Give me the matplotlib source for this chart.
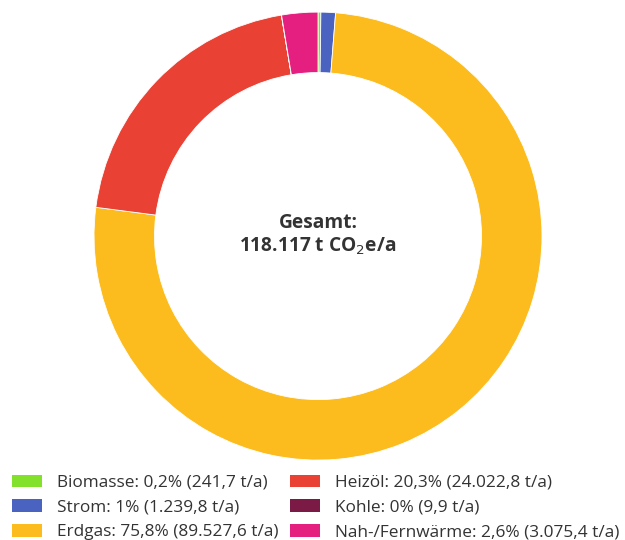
import matplotlib
matplotlib.use("Agg")
import matplotlib.pyplot as plt
from matplotlib.patches import Patch

labels = ["Biomasse", "Strom", "Erdgas", "Heizöl", "Kohle", "Nah-/Fernwärme"]
values = [241.7, 1239.8, 89527.6, 24022.8, 9.9, 3075.4]
pct_labels = ["0,2%", "1%", "75,8%", "20,3%", "0%", "2,6%"]
val_labels = ["241,7", "1.239,8", "89.527,6", "24.022,8", "9,9", "3.075,4"]
colors = ["#84e12b", "#4a63c1", "#fdbc1e", "#e94234", "#7a1a45", "#e41f80"]
total_label = "118.117"

plt.rcParams['font.family'] = ['Open Sans', 'DejaVu Sans']
txt = "#333333"

fig = plt.figure(figsize=(6.25, 5.4), dpi=100)
ax = fig.add_axes([0.1504, 0.148, 0.7168, 0.8296])
ax.pie(values, colors=colors, startangle=90, counterclock=False,
       wedgeprops=dict(width=0.27, edgecolor="white", linewidth=0.6))
ax.set_xlim(-1, 1); ax.set_ylim(-1, 1)
ax.set_aspect("equal")
ax.axis("off")

ax.text(0, 0.06, "Gesamt:", ha="center", va="center", fontsize=13.8,
        fontweight="bold", color=txt)
ax.text(0, -0.045, total_label + " t CO$_2$e/a", ha="center", va="center",
        fontsize=13.8, fontweight="bold", color=txt)

handles = [Patch(facecolor=c, edgecolor="none") for c in colors]
leg_labels = [f"{l}: {p} ({v} t/a)" for l, p, v in zip(labels, pct_labels, val_labels)]
fig.legend(handles, leg_labels, ncol=2, loc="lower left",
           bbox_to_anchor=(0.008, -0.0135), borderaxespad=0.0, frameon=False, fontsize=12.4,
           handlelength=1.75, handleheight=0.72, handletextpad=0.85,
           columnspacing=0.7, labelspacing=0.5, labelcolor=txt)

fig.savefig("out.png", dpi=100, facecolor="white")
